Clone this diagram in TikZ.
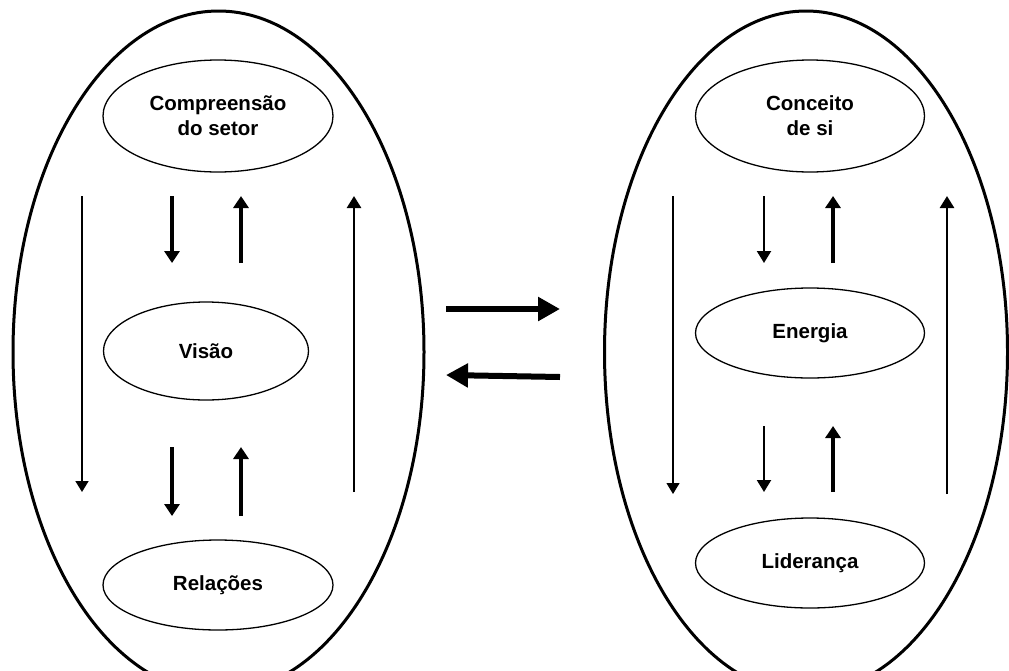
\documentclass[tikz,border=0pt]{standalone}
\usepackage{fontspec}
\setmainfont{Liberation Sans}
\usetikzlibrary{shapes.geometric,arrows.meta}
\begin{document}
\begin{tikzpicture}[x=1pt,y=-1pt,
  outer/.style={draw,ellipse,line width=3pt,inner sep=0pt},
  inner/.style={draw,ellipse,line width=1.3pt,inner sep=0pt,align=center,
     font=\fontsize{20.5}{25}\selectfont\bfseries},
  thinarr/.style={line width=1.6pt,-{Triangle[width=13pt,length=11pt]}},
  medarr/.style={line width=2.6pt,-{Triangle[width=14pt,length=12pt]}},
  thickarr/.style={line width=4.5pt,-{Triangle[width=15pt,length=12pt]}},
  bigarr/.style={line width=6pt,-{Triangle[width=23pt,length=22pt]}}]
\useasboundingbox (0,0) rectangle (1009,670);
\clip (0,0) rectangle (1009,670);
\fill[white] (0,0) rectangle (1009,670);
% big ellipses
\node[outer,minimum width=411pt,minimum height=682pt] (L) at (218.5,352) {};
\node[outer,minimum width=403pt,minimum height=682pt] (R) at (806,352) {};
% inner ellipses left
\node[inner,minimum width=230pt,minimum height=112pt] (c1) at (218,116) {Compreensão\\do setor};
\node[inner,minimum width=205pt,minimum height=98pt] (v1) at (206,351) {Visão};
\node[inner,minimum width=230pt,minimum height=90pt] (r1) at (218,585) {Relações};
% inner ellipses right
\node[inner,minimum width=229pt,minimum height=112pt] (c2) at (810,116) {Conceito\\de si};
\node[inner,minimum width=229pt,minimum height=90pt] (e2) at (810,333) {Energia};
\node[inner,minimum width=229pt,minimum height=90pt] (l2) at (810,563) {Liderança};
% arrow end coordinates, left
\coordinate (a1s) at (82,196);  \coordinate (a1e) at (82,492);
\coordinate (a2s) at (172,196); \coordinate (a2e) at (172,263);
\coordinate (a3s) at (241,263); \coordinate (a3e) at (241,196);
\coordinate (a4s) at (172,447); \coordinate (a4e) at (172,516);
\coordinate (a5s) at (241,516); \coordinate (a5e) at (241,447);
\coordinate (a6s) at (354,492); \coordinate (a6e) at (354,196);
% arrow end coordinates, right
\coordinate (b1s) at (673,196); \coordinate (b1e) at (673,494);
\coordinate (b2s) at (764,196); \coordinate (b2e) at (764,263);
\coordinate (b3s) at (833,263); \coordinate (b3e) at (833,196);
\coordinate (b4s) at (764,426); \coordinate (b4e) at (764,492);
\coordinate (b5s) at (833,492); \coordinate (b5e) at (833,426);
\coordinate (b6s) at (947,494); \coordinate (b6e) at (947,196);
% middle
\coordinate (m1s) at (446,309); \coordinate (m1e) at (560,309);
\coordinate (m2s) at (560,377); \coordinate (m2e) at (446,375);
% arrows left
\draw[thinarr] (a1s) -- (a1e);
\draw[thickarr] (a2s) -- (a2e);
\draw[thickarr] (a3s) -- (a3e);
\draw[thickarr] (a4s) -- (a4e);
\draw[thickarr] (a5s) -- (a5e);
\draw[medarr] (a6s) -- (a6e);
% arrows right
\draw[thinarr,line width=1.2pt] (b1s) -- (b1e);
\draw[medarr,line width=2.2pt] (b2s) -- (b2e);
\draw[thickarr] (b3s) -- (b3e);
\draw[medarr,line width=2.2pt] (b4s) -- (b4e);
\draw[thickarr] (b5s) -- (b5e);
\draw[medarr] (b6s) -- (b6e);
% middle arrows
\draw[bigarr] (m1s) -- (m1e);
\draw[bigarr] (m2s) -- (m2e);
\end{tikzpicture}
\end{document}
